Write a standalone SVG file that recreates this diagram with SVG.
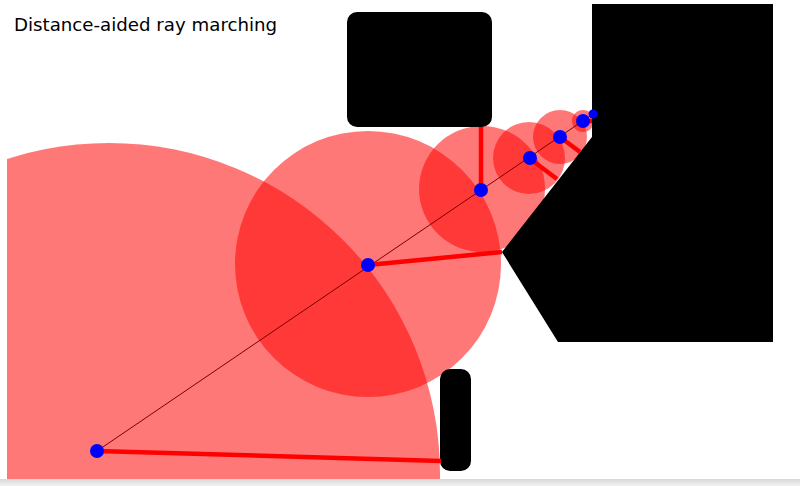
<svg xmlns="http://www.w3.org/2000/svg" width="800" height="486" viewBox="0 0 800 486">
  <style>
    .step { fill: #ff0000; fill-opacity: 0.53; }
    .obstacle { fill: #000000; }
    .dist { stroke: #ff0000; stroke-width: 4.5; stroke-linecap: butt; }
    .ray { stroke: #7a0000; stroke-width: 1; }
    .pt { fill: #0000ff; }
    .title { font-family: "DejaVu Sans", Verdana, sans-serif; font-size: 18.2px; fill: #000000; }
  </style>
  <defs>
    <clipPath id="canvas">
      <rect x="7" y="0" width="766" height="479"/>
    </clipPath>
    <linearGradient id="bar" x1="0" y1="0" x2="0" y2="1">
      <stop offset="0" stop-color="#d8d8d8"/>
      <stop offset="1" stop-color="#f2f2f2"/>
    </linearGradient>
  </defs>
  <rect x="0" y="0" width="800" height="486" fill="#ffffff"/>
  <rect x="0" y="479" width="800" height="7" fill="url(#bar)"/>

  <text class="title" x="14" y="31">Distance-aided ray marching</text>

  <g id="circles" clip-path="url(#canvas)">
    <circle id="step1" class="step" cx="109" cy="474" r="331"/>
    <circle id="step2" class="step" cx="368" cy="264" r="133"/>
    <circle id="step3" class="step" cx="482" cy="189" r="63"/>
    <circle id="step4" class="step" cx="529" cy="158" r="36"/>
    <circle id="step5" class="step" cx="560" cy="137" r="27"/>
    <circle id="step6" class="step" cx="583" cy="121" r="11"/>
  </g>

  <g id="obstacle-top">
    <rect class="obstacle" x="347" y="12" width="145" height="115" rx="10"/>
  </g>
  <g id="obstacle-bottom">
    <rect class="obstacle" x="440" y="369" width="31" height="102" rx="10"/>
  </g>
  <g id="obstacle-right">
    <polygon class="obstacle" points="592,4 773,4 773,342 558,342 502,252 592,137"/>
  </g>

  <g id="connectors">
    <line class="ray" x1="97" y1="451" x2="593" y2="114"/>
    <line class="dist" x1="97" y1="451" x2="441" y2="461"/>
    <line class="dist" x1="368" y1="265" x2="502" y2="252"/>
    <line class="dist" x1="481" y1="190" x2="481" y2="127"/>
    <line class="dist" x1="529" y1="158" x2="557" y2="179"/>
    <line class="dist" x1="560" y1="137" x2="580" y2="152"/>
    <line class="dist" x1="583" y1="121" x2="592" y2="121"/>
  </g>

  <g id="points">
    <circle id="p1" class="pt" cx="97" cy="451" r="7"/>
    <circle id="p2" class="pt" cx="368" cy="265" r="7"/>
    <circle id="p3" class="pt" cx="481" cy="190" r="7"/>
    <circle id="p4" class="pt" cx="530" cy="158" r="7"/>
    <circle id="p5" class="pt" cx="560" cy="137" r="7"/>
    <circle id="p6" class="pt" cx="583" cy="121" r="7"/>
    <circle id="p7" class="pt" cx="593" cy="114" r="4.5"/>
  </g>
</svg>
